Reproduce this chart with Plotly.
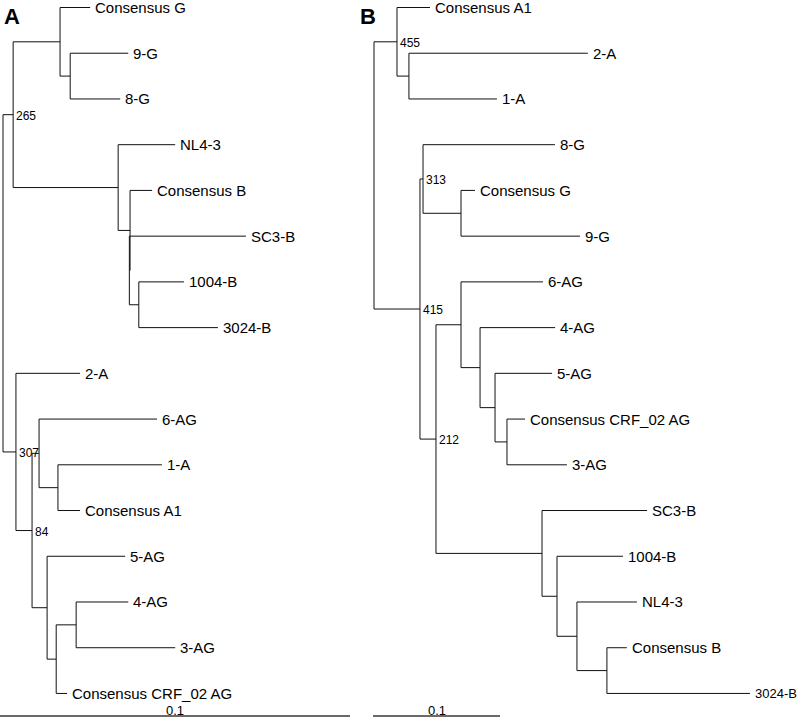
import plotly.graph_objects as go

# ---------------- Panel A tree (parent / branch length, children in list order) ----------------
A_nodes = ["rootA", "n265", "nG", "Consensus G", "nG2", "9-G", "8-G",
           "nB", "NL4-3", "nBX", "Consensus B", "nBY", "SC3-B", "nB2", "1004-B", "3024-B",
           "n307", "2-A", "n84", "nA6", "6-AG", "nA1", "1-A", "Consensus A1",
           "nAG5", "5-AG", "nAG", "nAG4", "4-AG", "3-AG", "Consensus CRF_02 AG"]
A_parent = [None, "rootA", "n265", "nG", "nG", "nG2", "nG2",
            "n265", "nB", "nB", "nBX", "nBX", "nBY", "nBY", "nB2", "nB2",
            "rootA", "n307", "n307", "n84", "nA6", "nA6", "nA1", "nA1",
            "n84", "nAG5", "nAG5", "nAG", "nAG4", "nAG4", "nAG"]
A_length = [0.0, 0.0029, 0.0134, 0.0086, 0.0029, 0.0166, 0.0143,
            0.0300, 0.0163, 0.0034, 0.0063, -0.0002, 0.0333, 0.0027, 0.0129, 0.0226,
            0.0037, 0.0183, 0.0046, 0.0020, 0.0337, 0.0054, 0.0297, 0.0063,
            0.0043, 0.0223, 0.0026, 0.0057, 0.0149, 0.0283, 0.0031]
A_support = {"n265": "265", "n307": "307", "n84": "84"}

# ---------------- Panel B tree ----------------
B_nodes = ["rootB", "n455", "Consensus A1", "nA", "2-A", "1-A",
           "n415", "n313", "8-G", "nG", "Consensus G", "9-G",
           "n212", "nAG6", "6-AG", "nAG4", "4-AG", "nAG5", "5-AG", "nAGC",
           "Consensus CRF_02 AG", "3-AG",
           "nB", "SC3-B", "nB1004", "1004-B", "nBN", "NL4-3", "nBC", "Consensus B", "3024-B"]
B_parent = [None, "rootB", "n455", "n455", "nA", "nA",
            "rootB", "n415", "n313", "n313", "nG", "nG",
            "n415", "n212", "nAG6", "nAG6", "nAG4", "nAG4", "nAG5", "nAG5",
            "nAGC", "nAGC",
            "n212", "nB", "nB", "nB1004", "nB1004", "nBN", "nBN", "nBC", "nBC"]
B_length = [0.0, 0.0181, 0.0260, 0.0094, 0.1409, 0.0693,
            0.0362, 0.0024, 0.1039, 0.0299, 0.0110, 0.0937,
            0.0126, 0.0197, 0.0646, 0.0150, 0.0591, 0.0118, 0.0449, 0.0094,
            0.0142, 0.0472,
            0.0835, 0.0827, 0.0118, 0.0520, 0.0157, 0.0472, 0.0236, 0.0157, 0.1126]
B_support = {"n455": "455", "n313": "313", "n415": "415", "n212": "212"}

SCALE_BAR = 0.1

# ---------------- layout helpers ----------------
W, H = 800, 718
kA = SCALE_BAR / 350.0   # data units per pixel, panel A
kB = SCALE_BAR / 127.0   # data units per pixel, panel B
A_root_px, B_root_px = 3, 374
A_bar_px, B_bar_px = 0, 373
ROW = 45.73
Y0 = 7.5
yr_top = (0 - Y0) / ROW
yr_bot = (H - Y0) / ROW


def layout_tree(nodes, parents, lengths):
    children = {n: [] for n in nodes}
    for n, p in zip(nodes, parents):
        if p is not None:
            children[p].append(n)
    blen = dict(zip(nodes, lengths))
    root = nodes[parents.index(None)]
    xs, ys = {}, {}
    counter = [0]

    def walk(n, x):
        xs[n] = x
        if not children[n]:
            ys[n] = counter[0]
            counter[0] += 1
        else:
            for c in children[n]:
                walk(c, x + blen[c])
            ys[n] = (ys[children[n][0]] + ys[children[n][-1]]) / 2.0

    walk(root, 0.0)
    return children, xs, ys, root


fig = go.Figure()
annotations = []
LINE_COLOR = "#111111"
FONT = "Liberation Sans, Arial, Helvetica, sans-serif"

panels = [
    (A_nodes, A_parent, A_length, A_support, "x", kA, A_root_px, A_bar_px, {}),
    (B_nodes, B_parent, B_length, B_support, "x2", kB, B_root_px, B_bar_px, {"3024-B": 13}),
]

for (nodes, parents, lengths, support, xref, k, root_px, bar_px, size_over) in panels:
    children, xs, ys, root = layout_tree(nodes, parents, lengths)
    lx, ly = [], []
    for n, p in zip(nodes, parents):
        if p is not None:
            lx += [xs[p], xs[n], None]
            ly += [ys[n], ys[n], None]
        if children[n]:
            lx += [xs[n], xs[n], None]
            ly += [ys[children[n][0]], ys[children[n][-1]], None]
    fig.add_trace(go.Scatter(x=lx, y=ly, mode="lines", xaxis=xref, yaxis="y",
                             line=dict(color=LINE_COLOR, width=1),
                             hoverinfo="skip", showlegend=False))
    for n in nodes:
        if not children[n]:
            annotations.append(dict(x=xs[n], y=ys[n], xref=xref, yref="y",
                                    text=n, showarrow=False, xanchor="left",
                                    yanchor="middle", xshift=3, yshift=0,
                                    font=dict(family=FONT, size=size_over.get(n, 15), color="black")))
        elif n in support:
            annotations.append(dict(x=xs[n], y=ys[n], xref=xref, yref="y",
                                    text=support[n], showarrow=False, xanchor="left",
                                    yanchor="middle", xshift=1, yshift=-1,
                                    font=dict(family=FONT, size=12, color="black")))
    # scale bar
    bar_y = (716 - Y0) / ROW
    x_start = (bar_px - root_px) * k
    fig.add_trace(go.Scatter(x=[x_start, x_start + SCALE_BAR], y=[bar_y, bar_y],
                             mode="lines", xaxis=xref, yaxis="y",
                             line=dict(color="#6a6a6a", width=2),
                             hoverinfo="skip", showlegend=False))
    annotations.append(dict(x=x_start + SCALE_BAR / 2, y=bar_y, xref=xref, yref="y",
                            text="0.1", showarrow=False, xanchor="center",
                            yanchor="bottom", yshift=-4,
                            font=dict(family=FONT, size=13, color="black")))

annotations.append(dict(x=2 / W, y=1 - 2 / H, xref="paper", yref="paper", text="<b>A</b>",
                        showarrow=False, xanchor="left", yanchor="top",
                        font=dict(family=FONT, size=22, color="black")))
annotations.append(dict(x=358 / W, y=1 - 2 / H, xref="paper", yref="paper", text="<b>B</b>",
                        showarrow=False, xanchor="left", yanchor="top",
                        font=dict(family=FONT, size=22, color="black")))

fig.update_layout(
    width=W, height=H,
    margin=dict(l=0, r=0, t=0, b=0),
    paper_bgcolor="white", plot_bgcolor="white",
    xaxis=dict(domain=[0, 1], range=[-A_root_px * kA, (W - A_root_px) * kA],
               visible=False, fixedrange=True),
    xaxis2=dict(domain=[0, 1], range=[-B_root_px * kB, (W - B_root_px) * kB],
                visible=False, overlaying="x", anchor="y", fixedrange=True),
    yaxis=dict(domain=[0, 1], range=[yr_bot, yr_top], visible=False, fixedrange=True),
    annotations=annotations,
    showlegend=False,
)

fig.write_html("out.html", config={"displayModeBar": False},
               post_script="document.body.style.margin='0';document.body.style.padding='0';"
                           "document.body.style.overflow='hidden';")
